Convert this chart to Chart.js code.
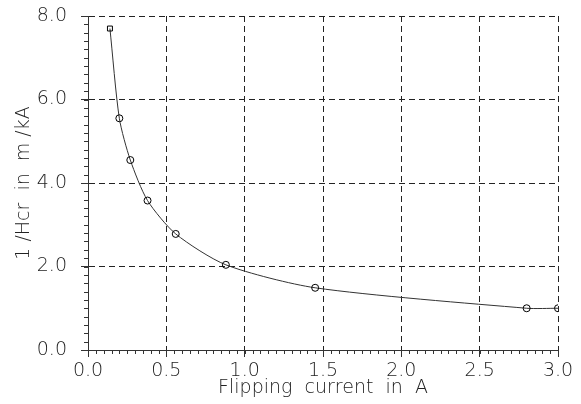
<!DOCTYPE html>
<html>
<head>
<meta charset="utf-8">
<script src="https://cdn.jsdelivr.net/npm/chart.js@4"></script>
<style>
    html, body { margin: 0; padding: 0; background: #fff; }
    #wrap { width: 581px; height: 404px; position: relative; }
</style>
</head>
<body>
<div id="wrap"><canvas id="flip-chart"></canvas></div>
<script>
// Flipping current (A) vs. 1/Hcr (m/kA)
const currents = [0.14, 0.2, 0.27, 0.38, 0.56, 0.88, 1.45, 2.8, 3.0];
const invHcr = [7.7, 5.55, 4.55, 3.58, 2.78, 2.04, 1.49, 1.0, 1.0];
const pointShapes = ['rect', 'circle', 'circle', 'circle', 'circle', 'circle', 'circle', 'circle', 'circle'];

const xTicks = { min: 0, max: 3, major: 0.5, minor: 0.05 };
const yTicks = { min: 0, max: 8, major: 2, minor: 0.2 };

const fontFace = '"DejaVu Sans", sans-serif';
const inkColor = '#222';

// small unlabelled ticks between the major ones
const minorTicks = {
    id: 'minorTicks',
    afterDraw(chart) {
        const { ctx, scales } = chart;
        const x = scales.x, y = scales.y;
        ctx.save();
        ctx.strokeStyle = '#333';
        ctx.lineWidth = 1;
        ctx.beginPath();
        const nx = Math.round((xTicks.max - xTicks.min) / xTicks.minor);
        for (let i = 0; i <= nx; i++) {
            const v = xTicks.min + i * xTicks.minor;
            const px = Math.round(x.getPixelForValue(v)) + 0.5;
            ctx.moveTo(px, y.bottom);
            ctx.lineTo(px, y.bottom + 4);
        }
        const ny = Math.round((yTicks.max - yTicks.min) / yTicks.minor);
        for (let i = 0; i <= ny; i++) {
            const v = yTicks.min + i * yTicks.minor;
            const py = Math.round(y.getPixelForValue(v)) + 0.5;
            ctx.moveTo(x.left - 4, py);
            ctx.lineTo(x.left, py);
        }
        ctx.stroke();
        ctx.restore();
    }
};

function zeroPadding(scale) {
    scale.paddingLeft = 0;
    scale.paddingRight = 0;
    scale.paddingTop = 0;
    scale.paddingBottom = 0;
}

const labelFont = { family: fontFace, size: 19, weight: 200 };

new Chart(document.getElementById('flip-chart'), {
    type: 'line',
    data: {
        datasets: [{
            data: currents.map((c, i) => ({ x: c, y: invHcr[i] })),
            borderColor: '#333',
            borderWidth: 1,
            tension: 0.25,
            pointStyle: pointShapes,
            pointRadius: 3.5,
            pointBorderColor: '#000',
            pointBorderWidth: 1,
            pointBackgroundColor: 'rgba(255,255,255,0)',
            fill: false
        }]
    },
    options: {
        responsive: true,
        maintainAspectRatio: false,
        animation: false,
        layout: { padding: { top: 16, right: 23, left: 0, bottom: 0 } },
        plugins: { legend: { display: false }, tooltip: { enabled: false } },
        scales: {
            x: {
                type: 'linear',
                min: xTicks.min,
                max: xTicks.max,
                afterFit(scale) { scale.height = 54; zeroPadding(scale); },
                grid: { color: '#222', lineWidth: 1, tickLength: 7, tickColor: '#333' },
                border: { display: true, color: '#333', width: 1, dash: [6, 4] },
                ticks: {
                    stepSize: xTicks.major,
                    padding: 3,
                    color: inkColor,
                    font: labelFont,
                    maxRotation: 0,
                    callback: v => v.toFixed(1)
                },
                title: {
                    display: true,
                    text: 'Flipping  current  in  A',
                    color: inkColor,
                    font: labelFont,
                    padding: { top: 0, bottom: 5 }
                }
            },
            y: {
                type: 'linear',
                min: yTicks.min,
                max: yTicks.max,
                afterFit(scale) { scale.width = 88; zeroPadding(scale); },
                grid: { color: '#222', lineWidth: 1, tickLength: 7, tickColor: '#333' },
                border: { display: true, color: '#333', width: 1, dash: [6, 4] },
                ticks: {
                    stepSize: yTicks.major,
                    padding: 14,
                    color: inkColor,
                    font: labelFont,
                    callback: v => v.toFixed(1)
                },
                title: {
                    display: true,
                    text: '1 /Hcr  in  m /kA',
                    color: inkColor,
                    font: labelFont,
                    padding: { top: 13, bottom: 0 }
                }
            }
        }
    },
    plugins: [minorTicks]
});
</script>
</body>
</html>
